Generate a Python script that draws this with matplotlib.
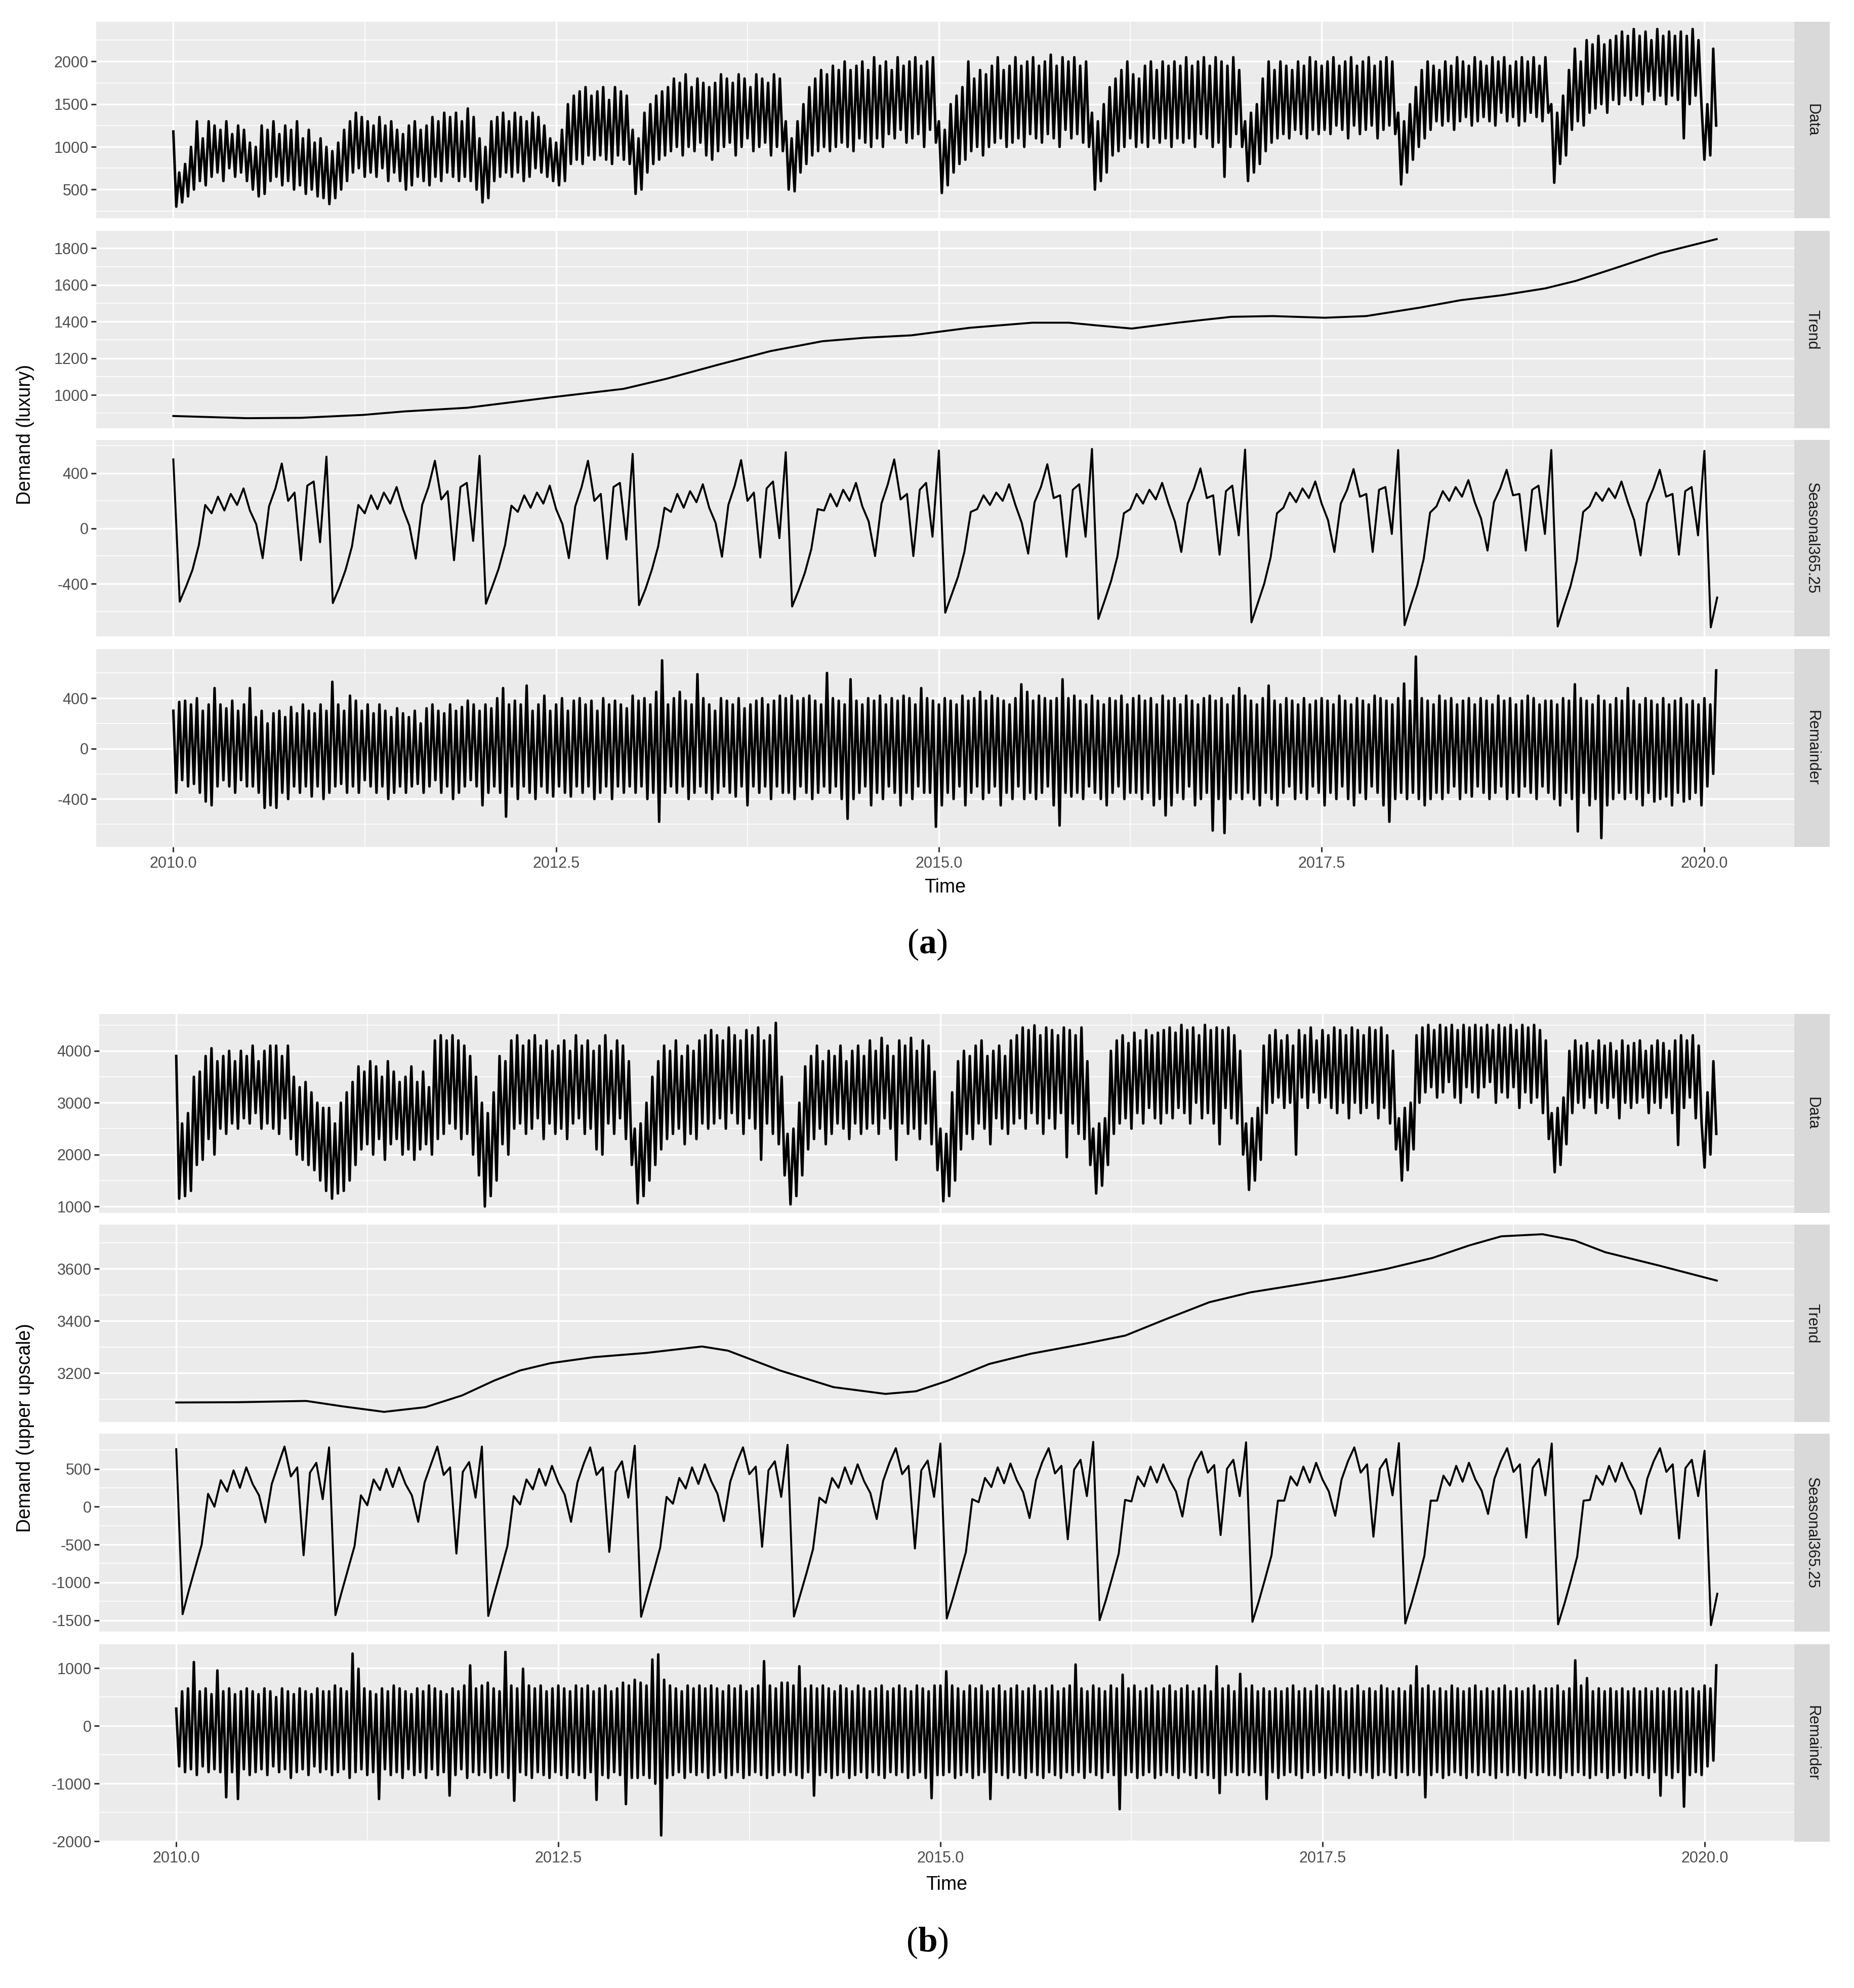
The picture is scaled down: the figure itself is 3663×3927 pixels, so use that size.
import numpy as np
import matplotlib
matplotlib.use("Agg")
import matplotlib.pyplot as plt
from matplotlib.ticker import FixedLocator

plt.rcParams['font.family'] = ['Liberation Sans', 'DejaVu Sans']
plt.rcParams['axes.unicode_minus'] = False
plt.rcParams['mathtext.fontset'] = 'custom'
plt.rcParams['mathtext.rm'] = 'Liberation Serif'
plt.rcParams['mathtext.bf'] = 'Liberation Serif:bold'

START = 2010.0
WEEKLY = 52      # data / remainder read once a week (alternate high / low)
HALF_MONTH = 24  # seasonal read twice a month

# ---- (a) luxury ----
lux_data = [
    1180, 300, 700, 350, 800, 420, 1000, 500, 1300, 600, 1100, 550, 1300, 650, 1250, 700, 1200, 600, 1300, 750, 1150, 650, 1250, 700, 1200, 600,
    1050, 500, 1000, 420, 1250, 450, 1200, 600, 1300, 650, 1150, 550, 1250, 600, 1200, 500, 1300, 550, 1100, 450, 1200, 500, 1050, 420, 1100, 400,
    1000, 330, 950, 400, 1050, 500, 1200, 600, 1300, 700, 1400, 750, 1350, 650, 1300, 700, 1250, 650, 1350, 750, 1250, 600, 1300, 700, 1200, 600,
    1150, 500, 1250, 550, 1300, 650, 1200, 600, 1250, 550, 1350, 650, 1300, 600, 1400, 700, 1350, 650, 1400, 600, 1300, 650, 1450, 600, 1350, 500,
    1100, 350, 1000, 400, 1300, 600, 1350, 650, 1400, 700, 1300, 650, 1400, 700, 1350, 600, 1300, 650, 1400, 750, 1350, 700, 1250, 650, 1100, 600,
    1050, 550, 1200, 600, 1500, 800, 1600, 850, 1650, 800, 1700, 900, 1600, 850, 1650, 900, 1700, 850, 1550, 800, 1700, 900, 1650, 850, 1600, 800,
    1200, 450, 1100, 500, 1400, 700, 1500, 800, 1600, 850, 1650, 900, 1700, 950, 1800, 1000, 1750, 900, 1850, 1000, 1700, 950, 1800, 1050, 1750, 900,
    1700, 850, 1750, 950, 1850, 1000, 1800, 1050, 1750, 900, 1850, 1000, 1800, 1100, 1700, 950, 1850, 1000, 1800, 1050, 1750, 900, 1850, 1000, 1800, 950,
    1300, 500, 1100, 480, 1300, 700, 1500, 800, 1700, 900, 1800, 950, 1900, 1000, 1850, 950, 1950, 1000, 1900, 1050, 2000, 1000, 1900, 950, 1950, 1100,
    2000, 1050, 1900, 1000, 2050, 1100, 1950, 1000, 2000, 1150, 1900, 1100, 2050, 1200, 1950, 1050, 2000, 1100, 2050, 1150, 1950, 1000, 2000, 1200, 2050, 1050,
    1300, 460, 1200, 550, 1500, 700, 1600, 800, 1700, 850, 2000, 950, 1800, 1000, 1900, 900, 1850, 1000, 1950, 1050, 2050, 1100, 1900, 1000, 1950, 1050,
    2050, 1100, 1950, 1000, 2000, 1150, 2050, 1100, 1950, 1050, 2000, 1150, 2080, 1100, 1950, 1000, 2050, 1200, 2000, 1100, 2050, 1150, 1950, 1050, 2000, 1000,
    1400, 500, 1300, 600, 1500, 700, 1700, 900, 1800, 950, 1900, 1000, 2000, 1100, 1850, 1000, 1800, 1050, 1950, 1000, 2000, 1100, 1900, 1050, 2000, 1100,
    1950, 1000, 2000, 1100, 1950, 1050, 2050, 1100, 1950, 1000, 2000, 1150, 2050, 1100, 1950, 1000, 2050, 1050, 2000, 650, 1950, 1000, 2050, 1150, 1900, 1000,
    1300, 600, 1400, 700, 1500, 800, 1800, 950, 2000, 1050, 1900, 1100, 2000, 1150, 1950, 1100, 1900, 1200, 2000, 1150, 1950, 1100, 2050, 1200, 2000, 1150,
    1950, 1200, 2000, 1150, 2050, 1250, 1950, 1200, 2000, 1100, 2050, 1250, 1950, 1150, 2000, 1200, 2050, 1250, 1950, 1100, 2000, 1200, 2050, 1250, 2000, 1150,
    1400, 560, 1300, 700, 1500, 850, 1700, 1000, 1900, 1100, 2000, 1200, 1950, 1300, 1900, 1250, 2000, 1300, 1950, 1200, 2050, 1300, 2000, 1350, 1950, 1250,
    2050, 1300, 2000, 1350, 1950, 1300, 2050, 1250, 2000, 1400, 2050, 1300, 1950, 1350, 2000, 1250, 2050, 1300, 2000, 1400, 2050, 1350, 1950, 1300, 2050, 1400,
    1500, 580, 1400, 800, 1600, 900, 1900, 1200, 2150, 1300, 2000, 1250, 2250, 1400, 2200, 1450, 2300, 1500, 2200, 1400, 2250, 1550, 2300, 1500, 2350, 1600,
    2300, 1550, 2380, 1600, 2300, 1500, 2350, 1650, 2250, 1550, 2380, 1600, 2300, 1500, 2350, 1600, 2300, 1550, 2350, 1100, 2300, 1500, 2380, 1600, 2250, 1500,
    850, 1500, 900, 2150, 1250,
]
lux_trend_t = [2010.0, 2010.48, 2010.83, 2011.24, 2011.51, 2011.92, 2012.47, 2012.94, 2013.22, 2013.56, 2013.90,
               2014.24, 2014.52, 2014.82, 2015.20, 2015.61, 2015.85, 2016.02, 2016.26, 2016.56, 2016.91, 2017.18,
               2017.52, 2017.79, 2018.14, 2018.41, 2018.68, 2018.96, 2019.16, 2019.43, 2019.71, 2020.08]
lux_trend = [885, 873, 875, 891, 910, 930, 987, 1033, 1088, 1165, 1239,
             1293, 1312, 1325, 1366, 1394, 1394, 1380, 1362, 1394, 1426, 1430,
             1421, 1430, 1476, 1517, 1544, 1581, 1622, 1695, 1773, 1850]
lux_seasonal = [
    500, -530, -420, -300, -120, 170, 110, 230, 130, 250, 170, 290, 130, 30, -215, 160, 290, 470, 200, 260, -230, 310, 340, -100,
    520, -540, -430, -300, -130, 170, 110, 240, 140, 260, 180, 300, 140, 20, -218, 170, 300, 490, 210, 270, -230, 300, 330, -90,
    526, -545, -420, -290, -120, 165, 120, 240, 150, 260, 180, 310, 140, 30, -215, 160, 300, 490, 200, 250, -220, 300, 330, -80,
    540, -555, -440, -300, -130, 150, 120, 250, 150, 270, 190, 320, 150, 40, -205, 170, 310, 495, 200, 260, -210, 290, 340, -70,
    552, -565, -450, -320, -150, 140, 130, 250, 160, 280, 200, 330, 160, 50, -200, 180, 320, 500, 210, 250, -200, 280, 330, -60,
    564, -610, -480, -350, -170, 120, 140, 240, 170, 260, 200, 320, 170, 40, -182, 190, 300, 465, 220, 240, -205, 280, 320, -60,
    576, -655, -520, -380, -200, 110, 140, 250, 180, 280, 210, 330, 180, 50, -170, 180, 290, 435, 220, 240, -190, 270, 310, -50,
    571, -680, -540, -400, -210, 110, 150, 260, 190, 290, 220, 340, 180, 60, -170, 180, 280, 430, 230, 250, -170, 280, 300, -40,
    568, -700, -550, -410, -220, 115, 160, 270, 200, 300, 230, 350, 190, 70, -160, 190, 290, 425, 240, 250, -160, 280, 310, -40,
    568, -710, -560, -420, -230, 120, 160, 260, 200, 290, 220, 340, 190, 60, -195, 180, 290, 425, 230, 250, -190, 270, 300, -50,
    562, -716, -500,
]
lux_remainder = [
    300, -350, 370, -250, 380, -300, 350, -280, 400, -350, 300, -420, 350, -450, 480, -300, 350, -250, 320, -300, 380, -350, 300, -250, 350, -300,
    480, -300, 250, -350, 300, -470, 200, -450, 280, -470, 300, -350, 250, -400, 330, -300, 280, -350, 350, -300, 300, -380, 280, -300, 350, -400,
    300, -350, 530, -300, 350, -280, 300, -350, 420, -300, 380, -350, 300, -250, 350, -300, 280, -350, 350, -300, 300, -400, 250, -350, 320, -300,
    280, -350, 250, -300, 300, -280, 200, -350, 320, -300, 350, -250, 300, -350, 280, -300, 350, -400, 300, -350, 330, -300, 380, -250, 350, -300,
    300, -450, 350, -350, 320, -300, 400, -350, 480, -540, 350, -300, 380, -400, 350, -300, 500, -350, 300, -400, 350, -300, 420, -350, 300, -380,
    350, -300, 400, -350, 300, -380, 380, -300, 400, -350, 350, -300, 380, -400, 300, -350, 400, -300, 350, -400, 380, -300, 350, -350, 320, -300,
    420, -350, 380, -300, 400, -400, 350, -350, 450, -580, 700, -350, 350, -300, 400, -350, 450, -300, 380, -400, 350, -350, 590, -300, 400, -350,
    350, -400, 300, -350, 400, -300, 380, -350, 350, -380, 400, -300, 320, -450, 350, -300, 380, -350, 400, -300, 350, -400, 380, -300, 420, -350,
    400, -350, 420, -400, 380, -300, 400, -350, 420, -400, 380, -350, 350, -300, 600, -350, 400, -300, 380, -400, 350, -557, 550, -400, 380, -350,
    350, -300, 400, -450, 380, -350, 420, -400, 350, -300, 400, -350, 380, -450, 420, -350, 400, -400, 350, -300, 480, -350, 400, -350, 380, -620,
    350, -450, 400, -350, 380, -400, 350, -300, 420, -450, 380, -350, 400, -300, 450, -400, 380, -350, 420, -300, 400, -450, 380, -350, 350, -400,
    400, -300, 510, -400, 450, -350, 380, -400, 420, -350, 400, -300, 380, -450, 400, -610, 550, -350, 400, -380, 420, -350, 380, -400, 350, -300,
    420, -350, 380, -400, 350, -450, 400, -350, 380, -300, 420, -400, 350, -350, 400, -350, 420, -400, 380, -350, 400, -450, 350, -400, 420, -530,
    380, -450, 400, -350, 350, -400, 420, -300, 380, -450, 350, -400, 400, -350, 420, -650, 380, -400, 400, -670, 350, -400, 420, -350, 480, -400,
    420, -350, 380, -400, 350, -450, 400, -350, 500, -400, 380, -450, 350, -350, 400, -300, 380, -400, 350, -350, 400, -400, 350, -300, 380, -350,
    400, -450, 380, -350, 350, -400, 420, -300, 380, -400, 350, -450, 400, -350, 380, -400, 350, -300, 420, -350, 400, -450, 380, -580, 350, -400,
    400, -350, 516, -400, 380, -350, 730, -400, 400, -450, 380, -400, 350, -350, 420, -400, 380, -350, 400, -300, 350, -400, 380, -350, 400, -380,
    350, -300, 400, -350, 380, -400, 350, -350, 420, -300, 380, -400, 400, -350, 350, -380, 380, -300, 420, -350, 400, -400, 350, -300, 380, -350,
    380, -400, 350, -450, 400, -350, 380, -400, 510, -657, 400, -350, 380, -450, 350, -400, 420, -710, 380, -450, 350, -400, 400, -350, 380, -400,
    480, -350, 380, -400, 350, -450, 400, -350, 380, -420, 350, -400, 400, -380, 350, -450, 380, -350, 400, -420, 350, -400, 380, -350, 350, -450,
    400, -300, 350, -200, 620,
]

# ---- (b) upper upscale ----
up_data = [
    3900, 1150, 2600, 1200, 2800, 1300, 3500, 1800, 3600, 1900, 3900, 2300, 4050, 2000, 3800, 2500, 3900, 2400, 4000, 2600, 3800, 2500, 4000, 2700, 3900, 2600,
    4100, 2800, 3800, 2500, 4000, 2600, 4100, 2500, 4100, 2400, 3900, 2700, 4100, 2300, 3500, 2000, 3300, 1900, 3400, 1800, 3200, 1700, 3000, 1500, 2900, 1300,
    2900, 1150, 2600, 1250, 3000, 1300, 3200, 1500, 3400, 1800, 3700, 2100, 3600, 2200, 3800, 2000, 3700, 2300, 3500, 1900, 3800, 2200, 3600, 2300, 3400, 2000,
    3500, 2100, 3700, 1900, 3400, 2100, 3600, 2200, 3300, 2000, 4200, 2300, 4300, 2400, 4200, 2600, 4300, 2500, 4200, 2300, 4100, 2400, 3900, 2000, 3500, 1600,
    3000, 1000, 2800, 1200, 3200, 1500, 3900, 2200, 3800, 2000, 4200, 2500, 4300, 2600, 4100, 2400, 4200, 2500, 4300, 2700, 4100, 2300, 4200, 2600, 4000, 2400,
    4100, 2500, 4200, 2300, 4000, 2600, 4300, 2700, 4100, 2400, 4200, 2500, 4000, 2100, 4100, 2000, 4300, 2600, 4000, 2400, 4200, 2700, 4100, 2300, 3800, 1800,
    2500, 1060, 2600, 1200, 3000, 1500, 3500, 1800, 3800, 2100, 4100, 2300, 4000, 2400, 4200, 2500, 3900, 2200, 4100, 2400, 4000, 2300, 4200, 2600, 4300, 2500,
    4400, 2600, 4300, 2700, 4200, 2500, 4450, 2800, 4300, 2600, 4200, 2400, 4400, 2700, 4300, 2500, 4450, 1900, 4200, 2600, 4300, 2400, 4540, 2200, 3500, 1600,
    2400, 1040, 2500, 1200, 3000, 1600, 3700, 2100, 3900, 2300, 4100, 2500, 3800, 2200, 4000, 2400, 3900, 2600, 4100, 2500, 3800, 2300, 4000, 2600, 4100, 2400,
    3900, 2500, 4200, 2600, 4000, 2400, 4250, 2700, 4100, 2500, 3900, 1900, 4200, 2600, 4100, 2400, 4250, 2500, 4000, 2300, 4200, 2600, 4100, 2200, 3600, 1700,
    2500, 1100, 2400, 1200, 3200, 1500, 3800, 2100, 4000, 2400, 3900, 2300, 4100, 2600, 4200, 2500, 3900, 2200, 4000, 2700, 4100, 2500, 3900, 2400, 4200, 2600,
    4300, 2700, 4450, 2500, 4400, 2800, 4490, 2600, 4300, 2400, 4450, 2700, 4400, 2500, 4300, 2800, 4450, 1950, 4400, 2600, 4300, 2400, 4450, 2300, 3800, 1800,
    2500, 1250, 2600, 1400, 2700, 1800, 4000, 2400, 4200, 2600, 4300, 2700, 4150, 2500, 4350, 2800, 4200, 2600, 4400, 2900, 4300, 2700, 4350, 2600, 4400, 2800,
    4450, 2700, 4350, 2900, 4500, 2800, 4400, 2600, 4450, 3000, 4300, 2700, 4500, 2800, 4400, 2600, 4450, 2200, 4400, 2900, 4450, 2700, 4300, 2600, 4000, 2000,
    2600, 1320, 2700, 1500, 2900, 1900, 4100, 2800, 4300, 3000, 4400, 3100, 4200, 2900, 4300, 3000, 4100, 2000, 4400, 3100, 4300, 2900, 4450, 3200, 4200, 3000,
    4400, 3100, 4300, 2900, 4450, 2800, 4400, 3000, 4300, 2700, 4450, 3000, 4400, 2800, 4300, 2900, 4450, 3000, 4400, 2700, 4450, 2900, 4300, 2600, 4000, 2100,
    2700, 1500, 2900, 1700, 3000, 2100, 4300, 3000, 4450, 3200, 4500, 3300, 4400, 3100, 4500, 3200, 4450, 3400, 4500, 3100, 4400, 3000, 4500, 3300, 4450, 3200,
    4500, 3100, 4450, 3300, 4500, 3400, 4400, 3000, 4500, 3200, 4450, 3100, 4500, 3300, 4400, 2900, 4500, 3200, 4450, 3000, 4500, 3100, 4400, 2800, 4200, 2300,
    2800, 1660, 2900, 1800, 3100, 2200, 4000, 2800, 4200, 3000, 4100, 2900, 4150, 3100, 4000, 2800, 4200, 3000, 4100, 2900, 4150, 3100, 4000, 2700, 4200, 3000,
    4100, 2900, 4150, 3000, 4200, 3100, 4000, 2800, 4100, 3000, 4200, 2900, 4150, 3100, 4000, 2800, 4200, 2185, 4300, 2900, 4200, 3100, 4300, 2700, 4100, 2600,
    1750, 3200, 2000, 3800, 2400,
]
up_trend_t = [2010.0, 2010.40, 2010.85, 2011.09, 2011.36, 2011.63, 2011.87, 2012.08, 2012.25, 2012.45, 2012.73,
              2013.07, 2013.44, 2013.61, 2013.95, 2014.30, 2014.64, 2014.84, 2015.05, 2015.32, 2015.59, 2015.94,
              2016.21, 2016.48, 2016.76, 2017.03, 2017.37, 2017.64, 2017.92, 2018.22, 2018.46, 2018.67, 2018.94,
              2019.15, 2019.35, 2019.70, 2020.08]
up_trend = [3087, 3088, 3093, 3072, 3051, 3069, 3114, 3171, 3210, 3238, 3261,
            3277, 3302, 3286, 3210, 3146, 3120, 3130, 3171, 3235, 3274, 3312,
            3344, 3408, 3472, 3510, 3542, 3568, 3600, 3642, 3690, 3725, 3733,
            3709, 3664, 3613, 3555]
up_seasonal = [
    760, -1420, -1100, -800, -500, 170, 0, 350, 200, 480, 250, 520, 300, 150, -207, 300, 550, 795, 400, 520, -641, 450, 580, 100,
    784, -1432, -1120, -820, -520, 150, 20, 360, 220, 500, 260, 520, 300, 150, -200, 320, 560, 795, 420, 520, -619, 460, 590, 120,
    795, -1443, -1130, -830, -520, 140, 30, 360, 230, 500, 280, 540, 320, 160, -200, 320, 570, 784, 420, 520, -597, 460, 600, 120,
    806, -1454, -1150, -850, -540, 130, 40, 380, 240, 520, 300, 560, 340, 170, -190, 330, 580, 784, 430, 530, -530, 480, 600, 130,
    817, -1450, -1160, -870, -560, 120, 50, 380, 250, 520, 300, 560, 340, 180, -163, 340, 580, 773, 430, 540, -552, 480, 610, 130,
    835, -1476, -1200, -900, -600, 100, 60, 380, 260, 520, 310, 570, 350, 190, -150, 350, 590, 773, 440, 540, -430, 490, 620, 140,
    857, -1499, -1230, -930, -620, 90, 70, 400, 270, 530, 320, 560, 350, 200, -130, 360, 580, 728, 450, 550, -374, 500, 620, 140,
    851, -1521, -1250, -950, -640, 80, 80, 400, 280, 530, 320, 580, 360, 200, -120, 360, 600, 784, 450, 560, -396, 500, 630, 150,
    840, -1543, -1270, -970, -650, 80, 80, 410, 280, 540, 330, 580, 360, 210, -96, 370, 600, 773, 460, 560, -408, 510, 630, 150,
    835, -1554, -1280, -980, -660, 80, 90, 410, 290, 540, 330, 580, 370, 210, -96, 370, 600, 773, 460, 560, -419, 510, 620, 140,
    739, -1565, -1150,
]
up_remainder = [
    300, -700, 600, -800, 650, -750, 1107, -850, 600, -700, 650, -800, 550, -750, 961, -800, 600, -1236, 650, -800, 550, -1266, 600, -750, 650, -850,
    600, -800, 550, -750, 650, -850, 600, -700, 500, -800, 650, -750, 600, -900, 550, -800, 650, -750, 600, -850, 550, -700, 650, -800, 600, -750,
    600, -850, 700, -800, 650, -750, 600, -900, 1254, -800, 990, -750, 650, -850, 600, -800, 550, -1266, 650, -750, 600, -850, 700, -800, 650, -900,
    600, -750, 550, -850, 650, -800, 600, -900, 700, -750, 650, -850, 600, -800, 550, -1207, 650, -850, 600, -750, 700, -900, 1049, -800, 650, -850,
    700, -800, 750, -900, 650, -850, 600, -800, 1283, -900, 700, -1295, 650, -800, 990, -850, 700, -900, 650, -800, 700, -850, 600, -900, 650, -800,
    700, -850, 650, -900, 600, -800, 700, -850, 650, -900, 700, -800, 600, -1280, 650, -850, 700, -900, 600, -800, 650, -850, 750, -1354, 700, -900,
    800, -900, 750, -850, 700, -900, 1151, -1000, 1239, -1896, 800, -900, 700, -850, 650, -800, 600, -900, 700, -800, 650, -850, 700, -800, 650, -900,
    700, -850, 650, -800, 600, -900, 700, -850, 650, -800, 700, -900, 600, -850, 650, -800, 700, -850, 1122, -900, 700, -850, 650, -800, 750, -850,
    750, -800, 700, -850, 1034, -900, 650, -800, 700, -1207, 650, -850, 700, -800, 650, -900, 600, -850, 700, -800, 650, -900, 600, -850, 700, -800,
    650, -900, 600, -800, 650, -850, 700, -900, 600, -800, 650, -850, 700, -800, 650, -900, 600, -850, 700, -800, 650, -900, 600, -1251, 700, -850,
    700, -850, 946, -800, 700, -900, 650, -850, 600, -800, 700, -900, 650, -850, 700, -800, 600, -1266, 650, -800, 700, -850, 600, -900, 650, -800,
    700, -850, 600, -900, 650, -800, 700, -850, 600, -900, 650, -800, 700, -850, 600, -900, 650, -800, 700, -850, 1064, -800, 650, -900, 600, -800,
    700, -850, 650, -900, 600, -800, 700, -850, 650, -1442, 888, -850, 650, -800, 700, -900, 600, -850, 650, -800, 700, -900, 600, -850, 650, -800,
    700, -850, 600, -900, 650, -800, 700, -850, 600, -900, 650, -800, 700, -850, 600, -900, 1034, -1163, 650, -850, 700, -800, 600, -850, 902, -800,
    650, -850, 700, -800, 600, -850, 650, -1266, 600, -800, 650, -900, 600, -850, 650, -800, 700, -850, 600, -900, 650, -800, 600, -850, 700, -800,
    650, -900, 600, -850, 700, -800, 650, -850, 600, -900, 650, -800, 700, -850, 600, -800, 650, -900, 600, -850, 700, -800, 650, -850, 600, -900,
    650, -800, 600, -850, 700, -800, 1034, -850, 650, -1236, 700, -850, 600, -800, 650, -900, 600, -850, 700, -800, 650, -850, 600, -900, 650, -800,
    700, -850, 600, -800, 650, -850, 600, -900, 650, -800, 700, -850, 600, -800, 650, -850, 600, -900, 650, -800, 700, -850, 600, -800, 650, -850,
    650, -850, 700, -900, 600, -800, 650, -850, 1137, -800, 700, -850, 829, -900, 600, -850, 650, -800, 600, -900, 650, -850, 600, -800, 650, -900,
    600, -850, 650, -800, 600, -850, 650, -900, 600, -800, 650, -1207, 600, -850, 650, -900, 600, -800, 650, -1398, 600, -850, 650, -800, 600, -850,
    700, -700, 650, -600, 1049,
]

strip_names = ['Data', 'Trend', 'Seasonal365.25', 'Remainder']
x_major = [2010.0, 2012.5, 2015.0, 2017.5, 2020.0]
x_minor = [2011.25, 2013.75, 2016.25, 2018.75]
x_labels = ['2010.0', '2012.5', '2015.0', '2017.5', '2020.0']

lux_ylims = [(165, 2465), (818, 1895), (-781, 641), (-780, 790)]
lux_major = [[500, 1000, 1500, 2000], [1000, 1200, 1400, 1600, 1800], [-400, 0, 400], [-400, 0, 400]]
lux_minor = [[250, 750, 1250, 1750, 2250], [900, 1100, 1300, 1500, 1700], [-600, -200, 200, 600], [-600, -200, 200, 600]]

up_ylims = [(875, 4710), (3012, 3770), (-1650, 965), (-2005, 1415)]
up_major = [[1000, 2000, 3000, 4000], [3200, 3400, 3600], [-1500, -1000, -500, 0, 500], [-2000, -1000, 0, 1000]]
up_minor = [[1500, 2500, 3500, 4500], [3100, 3300, 3500, 3700], [-1250, -750, -250, 250, 750], [-1500, -500, 500]]

W, H = 3663, 3927
XLIM = (2009.496, 2020.587)


def px_axes(fig, x0, y0, x1, y1):
    return fig.add_axes([x0 / W, 1 - y1 / H, (x1 - x0) / W, (y1 - y0) / H])


def draw_panel(ax, t, y, ylim, major, minor, lw, bottom):
    ax.set_facecolor('#EBEBEB')
    ax.plot(t, y, color='black', lw=lw)
    ax.set_xlim(*XLIM)
    ax.set_ylim(*ylim)
    ax.xaxis.set_major_locator(FixedLocator(x_major))
    ax.xaxis.set_minor_locator(FixedLocator(x_minor))
    ax.yaxis.set_major_locator(FixedLocator(major))
    ax.yaxis.set_minor_locator(FixedLocator(minor))
    ax.set_yticklabels([str(v) for v in major])
    ax.grid(which='major', color='white', lw=2.4)
    ax.grid(which='minor', color='white', lw=1.2)
    ax.set_axisbelow(True)
    for s in ax.spines.values():
        s.set_visible(False)
    ax.tick_params(which='minor', length=0)
    ax.tick_params(axis='y', which='major', length=7, width=2.2, color='#333333',
                   labelsize=22, labelcolor='#4D4D4D', pad=4)
    if bottom:
        ax.set_xticklabels(x_labels)
        ax.tick_params(axis='x', which='major', length=7, width=2.2, color='#333333',
                       labelsize=22, labelcolor='#4D4D4D', pad=6)
    else:
        ax.tick_params(axis='x', which='major', length=0, labelbottom=False)


def draw_strip(fig, x0, y0, x1, y1, name):
    sax = px_axes(fig, x0, y0, x1, y1)
    sax.set_facecolor('#D9D9D9')
    sax.set_xticks([])
    sax.set_yticks([])
    for s in sax.spines.values():
        s.set_visible(False)
    sax.text(0.5, 0.5, name, rotation=-90, ha='center', va='center',
             fontsize=22, color='#1A1A1A', transform=sax.transAxes)


def draw_group(fig, left, rows, series, ylims, majors, minors, ylabel, time_y, tag, tag_y):
    for k, ((y0, y1), (t, vals, lw)) in enumerate(zip(rows, series)):
        ax = px_axes(fig, left, y0, 3545, y1)
        draw_panel(ax, t, vals, ylims[k], majors[k], minors[k], lw, k == len(rows) - 1)
        draw_strip(fig, 3545, y0, 3615, y1, strip_names[k])
    mid = (rows[0][0] + rows[-1][1]) / 2
    fig.text(50 / W, 1 - mid / H, ylabel, rotation=90, ha='center', va='center', fontsize=27)
    fig.text((left + 3545) / 2 / W, 1 - time_y / H, 'Time', ha='center', va='center', fontsize=27)
    fig.text(0.5, 1 - tag_y / H, r'($\mathbf{%s}$)' % tag, ha='center', va='center',
             fontsize=50, family='Liberation Serif')


def main():
    fig = plt.figure(figsize=(W / 100, H / 100), dpi=100)
    t_lux_w = START + np.arange(len(lux_data)) / WEEKLY
    t_lux_s = START + np.arange(len(lux_seasonal)) / HALF_MONTH
    t_up_w = START + np.arange(len(up_data)) / WEEKLY
    t_up_s = START + np.arange(len(up_seasonal)) / HALF_MONTH

    lux_series = [(t_lux_w, lux_data, 3.6), (lux_trend_t, lux_trend, 2.8),
                  (t_lux_s, lux_seasonal, 2.8), (t_lux_w, lux_remainder, 3.6)]
    up_series = [(t_up_w, up_data, 3.6), (up_trend_t, up_trend, 2.8),
                 (t_up_s, up_seasonal, 2.8), (t_up_w, up_remainder, 3.6)]

    draw_group(fig, 190, [(43, 431), (456, 846), (869, 1257), (1282, 1673)], lux_series,
               lux_ylims, lux_major, lux_minor, 'Demand (luxury)', 1753, 'a', 1866)
    draw_group(fig, 196, [(2003, 2396), (2419, 2809), (2832, 3223), (3248, 3638)], up_series,
               up_ylims, up_major, up_minor, 'Demand (upper upscale)', 3723, 'b', 3838)

    fig.savefig('out.png', dpi=100, facecolor='white')


if __name__ == "__main__":
    main()
